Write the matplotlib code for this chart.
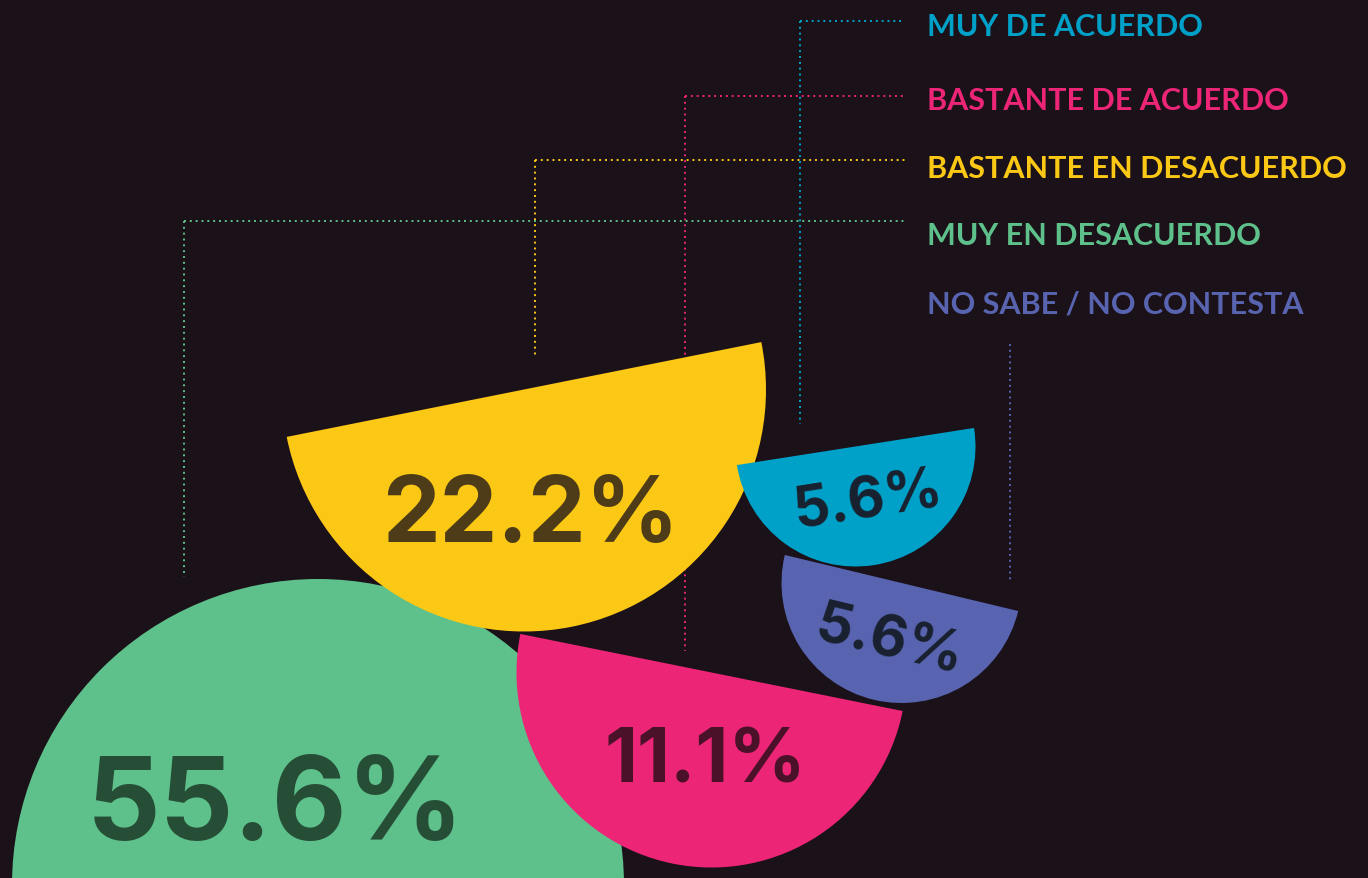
import numpy as np
import matplotlib
matplotlib.use("Agg")
import matplotlib.pyplot as plt
from matplotlib.patches import Wedge

# data
categories = ["MUY DE ACUERDO", "BASTANTE DE ACUERDO", "BASTANTE EN DESACUERDO",
              "MUY EN DESACUERDO", "NO SABE / NO CONTESTA"]
values = [5.6, 11.1, 22.2, 55.6, 5.6]

# colours
bg = "#1b1119"
fill_colors = ["#00a1c9", "#ec2577", "#fbc815", "#5ec08a", "#5864b0"]
text_colors = ["#19202e", "#4a1128", "#4d3c17", "#264d36", "#19202e"]

# layout (pixels, y down): half-disc centre, radius, angle of flat edge
centers = [(855.5, 447.5), (711.5, 673.5), (524, 390.5), (318, 886), (901.5, 584)]
radii = [120, 195, 242, 306, 120]
angles = [-8.9, 11.4, -11.3, 180, 13.5]
layer = [6, 5, 4, 3, 5]
# value label baseline anchor / size / rotation
label_xy = [(871, 517), (705, 783), (531, 542), (276, 840), (886, 657)]
label_size = [41, 55, 66, 83, 41]
label_rot = [8.9, 0, 0, 0, -13.5]
# leader lines: x of vertical, y of horizontal, y where it stops
lead_x = [800, 685, 535, 184, 1010]
lead_y = [22, 97, 161, 222, 345]
lead_end = [425, 652, 356, 578, 582]
lead_horiz = [True, True, True, True, False]
legend_y = [25, 98, 166, 234, 302]

fig = plt.figure(figsize=(13.68, 8.79), dpi=100, facecolor=bg)
ax = fig.add_axes([0, 0, 1, 1])
ax.set_facecolor(bg)
ax.set_xlim(0, 1368)
ax.set_ylim(879, 0)
ax.axis("off")

dots = (0, (1, 2))

for i, cat in enumerate(categories):
    c = fill_colors[i]
    # leader lines behind the shapes
    ax.plot([lead_x[i], lead_x[i]], [lead_y[i], lead_end[i]], color=c,
            lw=1.4, linestyle=dots, zorder=1)
    if lead_horiz[i]:
        ax.plot([lead_x[i], 905], [lead_y[i], lead_y[i]], color=c,
                lw=1.4, linestyle=dots, zorder=1)

    # half disc
    a = angles[i]
    ax.add_patch(Wedge(centers[i], radii[i], a, a + 180, facecolor=c,
                       edgecolor="none", zorder=layer[i]))

    # value label
    ax.text(label_xy[i][0], label_xy[i][1], f"{values[i]:.1f}%",
            ha="center", va="baseline", rotation=label_rot[i],
            rotation_mode="anchor", fontsize=label_size[i],
            fontweight="bold", family="Inter", color=text_colors[i], zorder=10)

    # legend entry
    ax.text(927, legend_y[i] + 2.5, cat, ha="left", va="center", fontsize=22,
            fontweight="bold", family="Lato", color=c, zorder=10)

fig.savefig("out.png", dpi=100, facecolor=bg)
